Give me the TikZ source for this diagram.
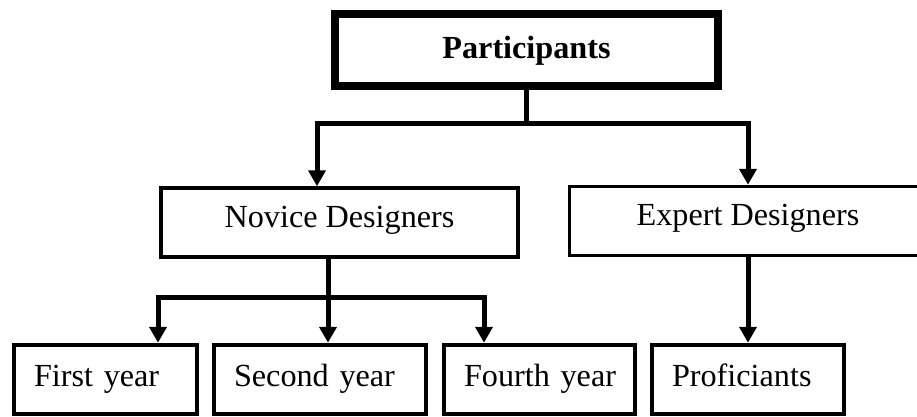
\documentclass[tikz,border=0pt]{standalone}
\usepackage{fontspec}
\setmainfont{Liberation Serif}
\usetikzlibrary{arrows.meta}
\begin{document}
\begin{tikzpicture}[x=1pt,y=-1pt,
  box/.style={draw, rectangle, inner sep=0pt, text height=24pt,
    font=\fontsize{32.2}{37}\selectfont},
  topbox/.style={box, line width=8pt, minimum width=383pt, minimum height=72pt,
    font=\fontsize{32.2}{37}\selectfont\bfseries, text depth=7.2pt},
  midbox/.style={box, line width=3.5pt, minimum width=357pt, minimum height=69pt,
    text depth=14.2pt},
  leafbox/.style={box, line width=4.5pt, minimum height=69pt, text depth=10.2pt,
    align=left, inner xsep=20pt},
  conn/.style={line width=5pt},
  tip/.style={conn, -{Triangle[width=17pt,length=16pt]}}
]
\useasboundingbox (0,0) rectangle (917,417);
\clip (0,0) rectangle (917,417);

% boxes
\node[topbox] (P) at (526.5,50) {Participants};
\node[midbox] (nov) at (339.5,222.5) {Novice Designers};
\node[midbox] (exp) at (748,221) {Expert Designers};
\node[leafbox, minimum width=183pt, text width=143pt] (y1) at (105.5,379.5) {\mbox{First year}};
\node[leafbox, minimum width=212pt, text width=172pt] (y2) at (320,379.5) {\mbox{Second year}};
\node[leafbox, minimum width=191pt, text width=151pt] (y4) at (539.5,379.5) {\mbox{Fourth year}};
\node[leafbox, minimum width=192pt, text width=152pt] (prof) at (748,379.5) {\mbox{Proficiants}};

% branch points
\coordinate (pj) at (526.5,123);
\coordinate (nl) at (317,123);
\coordinate (er) at (748,123);
\coordinate (nj) at (328,297);
\coordinate (bl) at (158,297);
\coordinate (br) at (484,297);

% connectors
\draw[conn] (P.south) -- (pj);
\draw[tip] (pj) -- (nl) -- (nl |- nov.north);
\draw[tip] (pj) -- (er) -- (exp.north);
\draw[conn] (nj |- nov.south) -- (nj);
\draw[tip] (nj) -- (bl) -- (bl |- y1.north);
\draw[tip] (nj) -- (br) -- (br |- y4.north);
\draw[tip] (nj) -- (nj |- y2.north);
\draw[tip] (exp.south) -- (prof.north);
\end{tikzpicture}
\end{document}
